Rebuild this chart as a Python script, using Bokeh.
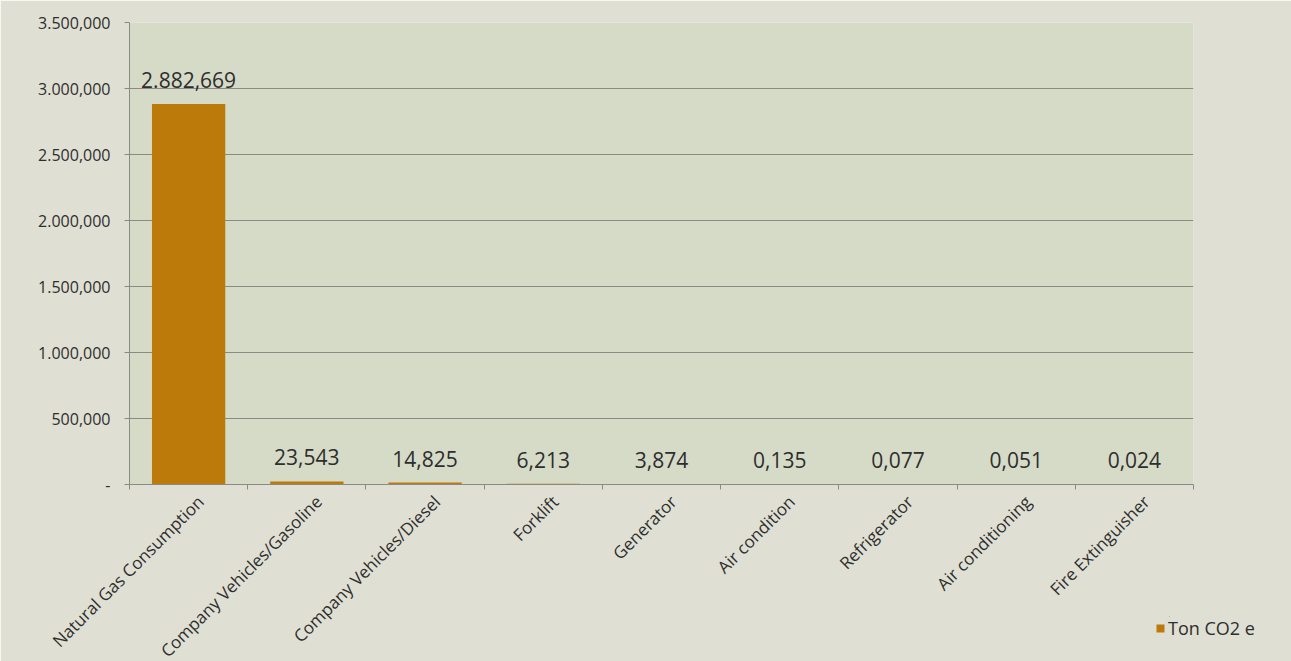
import math
from bokeh.plotting import figure
from bokeh.layouts import column
from bokeh.models import Range1d, FixedTicker, CustomJSTickFormatter, ColumnDataSource, Legend, LegendItem
from bokeh.core.properties import value
from bokeh.embed import file_html
from bokeh.resources import INLINE

categories = ["Natural Gas Consumption", "Company Vehicles/Gasoline", "Company Vehicles/Diesel",
              "Forklift", "Generator", "Air condition", "Refrigerator", "Air conditioning",
              "Fire Extinguisher"]
values = [2882.669, 23.543, 14.825, 6.213, 3.874, 0.135, 0.077, 0.051, 0.024]
series_name = "Ton CO2 e"
y_ticks = [0, 500, 1000, 1500, 2000, 2500, 3000, 3500]
y_tick_labels = ["-", "500,000", "1.000,000", "1.500,000", "2.000,000", "2.500,000", "3.000,000", "3.500,000"]

FONT = "Open Sans"
BG_OUT = "#dfe0d3"
BG_IN = "#d6dbc7"
BAR = "#bb7a0a"
TXT = "#2e2e2e"
GRID = "#8a8a84"


def tr_fmt(v):
    s = f"{v:,.3f}"
    return s.replace(",", "X").replace(".", ",").replace("X", ".")


xs = [i + 0.5 for i in range(len(categories))]
label_pos = [i + 0.6 for i in range(len(categories))]
src = ColumnDataSource(dict(x=xs, top=values, lbl=[tr_fmt(v) for v in values], cat=categories))

p = figure(frame_width=1064, frame_height=462, output_backend="svg", toolbar_location=None,
           x_range=Range1d(0, len(categories)), y_range=Range1d(0, 3500),
           min_border_left=129, min_border_right=98, min_border_top=22, min_border_bottom=177,
           background_fill_color=BG_IN, border_fill_color=BG_OUT, outline_line_color=None)

r = p.vbar(x="x", top="top", width=0.62, bottom=0, source=src, fill_color=BAR, line_color=None)

p.text(x="x", y="top", text="lbl", source=src, text_align="center", text_baseline="alphabetic",
       y_offset=-24, text_font=value(FONT), text_font_size="21px", text_color=TXT)

# y axis
p.yaxis.ticker = FixedTicker(ticks=y_ticks)
p.yaxis.major_label_overrides = {t: l for t, l in zip(y_ticks, y_tick_labels)}
p.yaxis.minor_tick_line_color = None
p.yaxis.major_tick_in = 0
p.yaxis.major_tick_out = 5
p.yaxis.major_tick_line_color = GRID
p.yaxis.axis_line_color = GRID
p.yaxis.major_label_standoff = 14
p.yaxis.major_label_text_font = FONT
p.yaxis.major_label_text_font_size = "16px"
p.yaxis.major_label_text_color = TXT

# x axis
p.xaxis.ticker = FixedTicker(ticks=label_pos, minor_ticks=list(range(len(categories) + 1)))
p.xaxis.formatter = CustomJSTickFormatter(args=dict(labels=categories),
                                          code="const i = Math.floor(tick); return labels[i] || '';")
p.xaxis.major_tick_line_color = None
p.xaxis.minor_tick_line_color = GRID
p.xaxis.minor_tick_in = 0
p.xaxis.minor_tick_out = 5
p.xaxis.axis_line_color = GRID
p.xaxis.major_label_orientation = math.pi / 4
p.xaxis.major_label_standoff = 8
p.xaxis.major_label_text_font = FONT
p.xaxis.major_label_text_font_size = "17px"
p.xaxis.major_label_text_color = TXT

p.xgrid.grid_line_color = None
p.ygrid.ticker = FixedTicker(ticks=y_ticks)
p.ygrid.grid_line_color = GRID
p.ygrid.grid_line_width = 1

# legend: small transparent figure overlapping the bottom-right corner of the chart
lf = figure(width=112, height=22, output_backend="svg", toolbar_location=None,
            min_border=0, outline_line_color=None,
            x_range=Range1d(1000, 1001), y_range=Range1d(-1e7, -1e7 + 1),
            background_fill_alpha=0, border_fill_alpha=0,
            margin=(-56, 0, 0, 1155))
lf.xaxis.visible = False
lf.yaxis.visible = False
lf.grid.visible = False
# same series, drawn far outside this small figure's visible range: only its legend swatch shows
lr = lf.vbar(x="x", top="top", width=0.62, bottom=0, source=src, fill_color=BAR, line_color=None)
legend = Legend(items=[LegendItem(label=series_name, renderers=[lr])],
                location="top_left", orientation="horizontal",
                background_fill_alpha=0, border_line_color=None, margin=0, padding=2,
                glyph_width=10, glyph_height=10, label_standoff=3, label_height=12,
                label_text_font=FONT, label_text_font_size="18px", label_text_color=TXT)
lf.add_layout(legend, "center")

layout = column(p, lf, spacing=0)
open("out.html", "w").write(file_html(layout, INLINE))
